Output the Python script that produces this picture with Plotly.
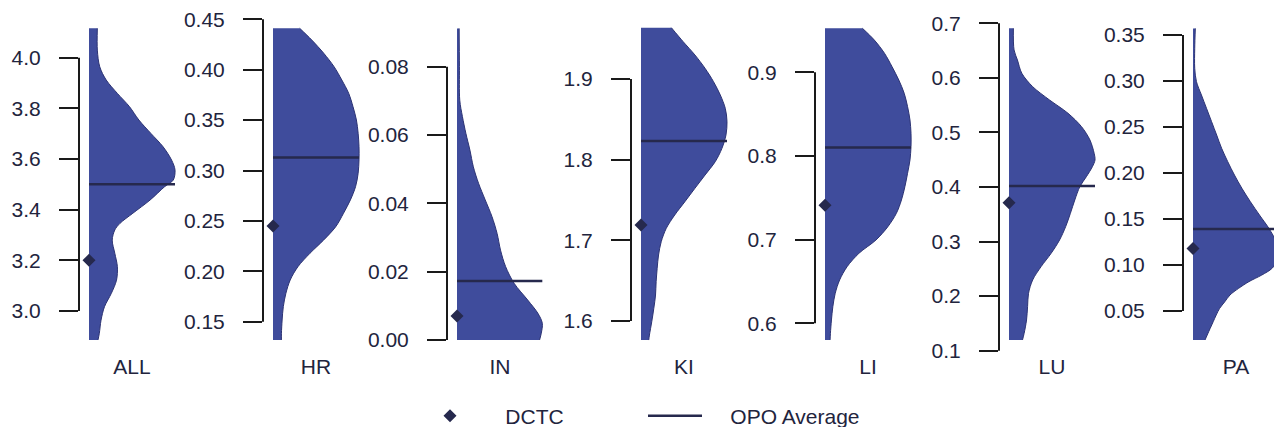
import plotly.graph_objects as go

# ---------------- data ----------------
panels = ["ALL", "HR", "IN", "KI", "LI", "LU", "PA"]
dctc = [3.20, 0.245, 0.007, 1.719, 0.741, 0.371, 0.118]
opo_avg = [3.50, 0.313, 0.0173, 1.823, 0.810, 0.402, 0.139]

ticks_ALL = [3.0, 3.2, 3.4, 3.6, 3.8, 4.0]
ticks_HR = [0.15, 0.20, 0.25, 0.30, 0.35, 0.40, 0.45]
ticks_IN = [0.00, 0.02, 0.04, 0.06, 0.08]
ticks_KI = [1.6, 1.7, 1.8, 1.9]
ticks_LI = [0.6, 0.7, 0.8, 0.9]
ticks_LU = [0.1, 0.2, 0.3, 0.4, 0.5, 0.6, 0.7]
ticks_PA = [0.05, 0.10, 0.15, 0.20, 0.25, 0.30, 0.35]
tick_labels_ALL = ["3.0", "3.2", "3.4", "3.6", "3.8", "4.0"]
tick_labels_HR = ["0.15", "0.20", "0.25", "0.30", "0.35", "0.40", "0.45"]
tick_labels_IN = ["0.00", "0.02", "0.04", "0.06", "0.08"]
tick_labels_KI = ["1.6", "1.7", "1.8", "1.9"]
tick_labels_LI = ["0.6", "0.7", "0.8", "0.9"]
tick_labels_LU = ["0.1", "0.2", "0.3", "0.4", "0.5", "0.6", "0.7"]
tick_labels_PA = ["0.05", "0.10", "0.15", "0.20", "0.25", "0.30", "0.35"]

legend_names = ["DCTC", "OPO Average"]

# density profiles (value, relative half-width)
dens_y_ALL = [4.116, 4.030, 3.964, 3.912, 3.859, 3.807, 3.754, 3.701, 3.649, 3.596, 3.557, 3.517, 3.491,
              3.438, 3.386, 3.346, 3.320, 3.280, 3.228, 3.175, 3.122, 3.070, 3.017, 2.964, 2.912, 2.886]
dens_w_ALL = [0.097, 0.097, 0.125, 0.20, 0.33, 0.47, 0.58, 0.72, 0.86, 0.96, 1.0, 0.98, 0.88,
              0.71, 0.51, 0.36, 0.30, 0.27, 0.30, 0.33, 0.32, 0.26, 0.18, 0.14, 0.12, 0.105]
dens_y_HR = [0.4411, 0.4295, 0.4163, 0.4030, 0.3898, 0.3766, 0.3634, 0.3501, 0.3369, 0.3237, 0.3105, 0.2972,
             0.2840, 0.2708, 0.2576, 0.2443, 0.2311, 0.2179, 0.2046, 0.1914, 0.1782, 0.1650, 0.1517, 0.1385, 0.1319]
dens_w_HR = [0.31, 0.45, 0.59, 0.71, 0.80, 0.88, 0.93, 0.97, 0.99, 1.0, 1.0, 0.99,
             0.96, 0.90, 0.82, 0.73, 0.59, 0.43, 0.29, 0.20, 0.15, 0.12, 0.106, 0.098, 0.098]
dens_y_IN = [0.0912, 0.0800, 0.0702, 0.0654, 0.0605, 0.0556, 0.0507, 0.0459, 0.0410, 0.0361,
             0.0312, 0.0263, 0.0215, 0.0166, 0.0117, 0.0078, 0.0049, 0.0020, 0.0000]
dens_w_IN = [0.025, 0.028, 0.032, 0.063, 0.103, 0.15, 0.19, 0.25, 0.328, 0.407,
             0.466, 0.506, 0.565, 0.664, 0.822, 0.941, 0.992, 0.98, 0.96]
dens_y_KI = [1.9636, 1.9463, 1.9298, 1.9132, 1.8967, 1.8802, 1.8636, 1.8471, 1.8306, 1.8140, 1.7975, 1.7810,
             1.7645, 1.7479, 1.7314, 1.7149, 1.6983, 1.6818, 1.6653, 1.6488, 1.6322, 1.6157, 1.5992, 1.5826, 1.5764]
dens_w_KI = [0.353, 0.49, 0.627, 0.745, 0.843, 0.922, 0.98, 1.0, 0.988, 0.941, 0.863, 0.745,
             0.627, 0.51, 0.392, 0.294, 0.235, 0.204, 0.188, 0.176, 0.169, 0.149, 0.125, 0.098, 0.09]
dens_y_LI = [0.9526, 0.9386, 0.9227, 0.9068, 0.8908, 0.8749, 0.8590, 0.8430, 0.8271, 0.8112, 0.7952, 0.7793,
             0.7633, 0.7474, 0.7315, 0.7155, 0.6996, 0.6837, 0.6677, 0.6518, 0.6359, 0.6199, 0.6040, 0.5880, 0.5801]
dens_w_LI = [0.435, 0.573, 0.692, 0.779, 0.858, 0.921, 0.96, 0.988, 1.0, 1.0, 0.988, 0.96,
             0.929, 0.889, 0.83, 0.731, 0.593, 0.395, 0.257, 0.17, 0.119, 0.091, 0.075, 0.063, 0.059]
dens_y_LU = [0.6908, 0.6511, 0.6328, 0.6084, 0.5839, 0.5595, 0.5351, 0.5106, 0.4862, 0.4618, 0.4495, 0.4373, 0.4190,
             0.4007, 0.3762, 0.3518, 0.3274, 0.3029, 0.2785, 0.2541, 0.2296, 0.2052, 0.1808, 0.1563, 0.1319, 0.1197]
dens_w_LU = [0.051, 0.059, 0.098, 0.149, 0.275, 0.471, 0.686, 0.843, 0.941, 0.99, 1.0, 0.97, 0.90,
             0.824, 0.765, 0.714, 0.659, 0.588, 0.49, 0.373, 0.275, 0.227, 0.216, 0.204, 0.176, 0.157]
dens_y_PA = [0.3572, 0.3355, 0.3138, 0.2993, 0.2848, 0.2703, 0.2558, 0.2413, 0.2268, 0.2123, 0.1978, 0.1833,
             0.1688, 0.1543, 0.1399, 0.1254, 0.1181, 0.1109, 0.1036, 0.0964, 0.0891, 0.0819, 0.0746, 0.0674,
             0.0601, 0.0529, 0.0457, 0.0384, 0.0312, 0.0239, 0.0185]
dens_w_PA = [0.027, 0.02, 0.02, 0.04, 0.098, 0.157, 0.216, 0.275, 0.333, 0.404, 0.482, 0.569,
             0.667, 0.773, 0.882, 0.97, 1.0, 0.99, 0.97, 0.92, 0.80, 0.65, 0.53, 0.43,
             0.37, 0.31, 0.27, 0.235, 0.20, 0.165, 0.14]

ticks = [ticks_ALL, ticks_HR, ticks_IN, ticks_KI, ticks_LI, ticks_LU, ticks_PA]
tick_labels = [tick_labels_ALL, tick_labels_HR, tick_labels_IN, tick_labels_KI,
               tick_labels_LI, tick_labels_LU, tick_labels_PA]
dens_y = [dens_y_ALL, dens_y_HR, dens_y_IN, dens_y_KI, dens_y_LI, dens_y_LU, dens_y_PA]
dens_w = [dens_w_ALL, dens_w_HR, dens_w_IN, dens_w_KI, dens_w_LI, dens_w_LU, dens_w_PA]

# ---------------- layout calibration (pixels) ----------------
FIG_W, FIG_H = 1274, 427
T, B = 5, 352                     # plot area top / bottom
AX0, STEP = 79, 184               # left axis position of each panel
BASE_OFF = 10                     # gap between axis and violin base
UNIT = 86.0                       # px for relative width 1
# pixel rows of lowest / highest tick per panel
tick_px = [(311.0, 57.7), (321.7, 19.3), (340.0, 66.7), (321.0, 79.0),
           (323.3, 72.3), (350.7, 23.3), (311.0, 35.0)]
PAD = "\u00a0" * 4                # gap between legend symbol and its text

FILL = "#3f4c9c"
EDGE = "#2c3373"
DARK = "#26294d"
AXC = "#1a1a1a"
TXT = "#22243d"
FONT = "Liberation Sans, Arial, Helvetica, sans-serif"

fig = go.Figure()
shapes = []
layout_axes = {}
for i, name in enumerate(panels):
    n = "" if i == 0 else str(i + 1)
    xa, ya = "x" + n, "y" + n
    left = AX0 + STEP * i
    width = (FIG_W - left) if i == len(panels) - 1 else 110
    # x axis
    layout_axes["xaxis" + n] = dict(
        domain=[left / FIG_W, (left + width) / FIG_W],
        range=[-BASE_OFF / UNIT, (width - BASE_OFF) / UNIT],
        anchor=ya, showgrid=False, zeroline=False, showline=False,
        tickvals=[0.5], ticktext=[name], ticks="",
        tickfont=dict(size=21, color=TXT, family=FONT), fixedrange=True,
    )
    # y axis
    vmin, vmax = min(ticks[i]), max(ticks[i])
    pb, pt = tick_px[i]
    s = (vmax - vmin) / (pb - pt)
    layout_axes["yaxis" + n] = dict(
        domain=[0, 1], anchor=xa,
        range=[vmin - (B - pb) * s, vmax + (pt - T) * s],
        showgrid=False, zeroline=False, showline=False,
        tickvals=ticks[i], ticktext=tick_labels[i],
        ticks="outside", ticklen=19, tickwidth=2, tickcolor=AXC,
        ticklabelstandoff=14,
        tickfont=dict(size=21, color=TXT, family=FONT), fixedrange=True,
    )
    shapes.append(dict(type="line", xref=xa + " domain", x0=0, x1=0,
                       yref=ya, y0=vmin, y1=vmax,
                       line=dict(color=AXC, width=2)))
    # half violin
    fig.add_trace(go.Scatter(
        x=dens_w[i], y=dens_y[i], mode="lines", fill="tozerox",
        fillcolor=FILL, line=dict(color=EDGE, width=1, shape="spline", smoothing=0.9),
        showlegend=False, hoverinfo="skip", xaxis=xa, yaxis=ya,
    ))
    # OPO average line
    fig.add_trace(go.Scatter(
        x=[0, max(dens_w[i])], y=[opo_avg[i], opo_avg[i]], mode="lines",
        line=dict(color=DARK, width=2.5), name=PAD + legend_names[1],
        legendgroup="opo", showlegend=(i == 0), legendrank=2,
        xaxis=xa, yaxis=ya,
    ))
    # DCTC marker
    fig.add_trace(go.Scatter(
        x=[0], y=[dctc[i]], mode="markers",
        marker=dict(symbol="diamond", size=10, color=DARK),
        name=PAD + legend_names[0], legendgroup="dctc", showlegend=(i == 0), legendrank=1,
        xaxis=xa, yaxis=ya,
    ))

fig.update_layout(
    width=FIG_W, height=FIG_H,
    margin=dict(l=0, r=0, t=T, b=FIG_H - B, autoexpand=False),
    paper_bgcolor="white", plot_bgcolor="white",
    shapes=shapes,
    showlegend=True,
    legend=dict(
        orientation="h", x=418 / FIG_W, xanchor="left",
        y=(B - 416) / (B - T), yanchor="middle",
        font=dict(size=21, color=TXT, family=FONT),
        itemwidth=54, entrywidth=156, entrywidthmode="pixels",
        bgcolor="rgba(0,0,0,0)", traceorder="normal",
    ),
    **layout_axes,
)

fig.write_html("out.html")
